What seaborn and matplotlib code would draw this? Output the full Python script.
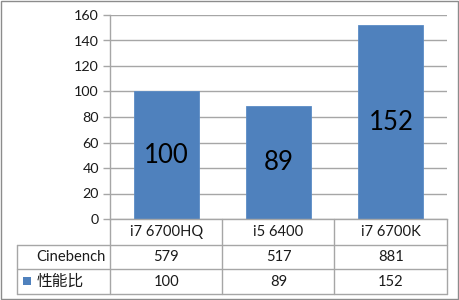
import matplotlib
matplotlib.use("Agg")
import matplotlib.pyplot as plt
import seaborn as sns
import pandas as pd
from matplotlib.lines import Line2D
from matplotlib.patches import Rectangle
from matplotlib.transforms import blended_transform_factory

categories = ["i7 6700HQ", "i5 6400", "i7 6700K"]
perf_ratio = [100, 89, 152]
cinebench = [579, 517, 881]
row_labels = ["Cinebench", "性能比"]
y_ticks = [0, 20, 40, 60, 80, 100, 120, 140, 160]

sns.set_theme(style="white")
plt.rcParams["font.family"] = ["Lato", "Noto Sans CJK SC", "DejaVu Sans"]

W, H = 459, 300
fig = plt.figure(figsize=(W / 100, H / 100), dpi=100)
fig.patch.set_facecolor("white")

def fx(px):
    return px / W

def fy(py):
    return 1 - py / H

left, right, top, bottom = 110, 447, 15, 219
ax = fig.add_axes([fx(left), fy(bottom), fx(right) - fx(left), fy(top) - fy(bottom)])

df = pd.DataFrame({"cpu": categories, "ratio": perf_ratio})
BLUE = "#4F81BD"
sns.barplot(data=df, x="cpu", y="ratio", color=BLUE, saturation=1, width=0.58,
            ax=ax, edgecolor="#5B8CC6", linewidth=0.6)
for c in ax.containers:
    ax.bar_label(c, label_type="center", fontsize=18.5, color="black")

GRID = "#A6A6A6"
TXT = "#1a1a1a"
ax.set_ylim(0, 160)
ax.set_xlim(-0.5, len(categories) - 0.5)
ax.set_yticks(y_ticks)
ax.set_yticklabels([str(v) for v in y_ticks], fontsize=10.3, color=TXT)
ax.yaxis.grid(True, color=GRID, linewidth=1)
ax.set_axisbelow(True)
ax.set_xticks([])
ax.set_xlabel("")
ax.set_ylabel("")
ax.tick_params(axis="y", length=5, width=1, color=GRID, pad=3, left=True)
for s in ["top", "right"]:
    ax.spines[s].set_visible(False)
ax.spines["left"].set_color(GRID)
ax.spines["left"].set_linewidth(1)
ax.spines["bottom"].set_color(GRID)
ax.spines["bottom"].set_linewidth(1)

# data table
tcol = blended_transform_factory(ax.transData, fig.transFigure)
LC = "#A6A6A6"

def hline(x0, x1, y):
    fig.add_artist(Line2D([fx(x0), fx(x1)], [fy(y), fy(y)], color=LC, lw=1))

def vline(x, y0, y1):
    fig.add_artist(Line2D([fx(x), fx(x)], [fy(y0), fy(y1)], color=LC, lw=1))

row_y = [219, 245, 269, 294]
tbl_left = 17
hline(tbl_left, right, 245)
hline(tbl_left, right, 269)
hline(tbl_left, right, 294)
vline(tbl_left, 245, 294)
for xb in [110, 222, 334, 447]:
    vline(xb, 219, 294)

cat_y = fy((row_y[0] + row_y[1]) / 2)
cb_y = fy((row_y[1] + row_y[2]) / 2)
pr_y = fy((row_y[2] + row_y[3]) / 2)
FS = 10.6
for i, cat in enumerate(categories):
    fig.text(i, cat_y, cat, transform=tcol, ha="center", va="center", fontsize=FS, color=TXT)
    fig.text(i, cb_y, str(cinebench[i]), transform=tcol, ha="center", va="center", fontsize=FS, color=TXT)
    fig.text(i, pr_y, str(perf_ratio[i]), transform=tcol, ha="center", va="center", fontsize=FS, color=TXT)

fig.text(fx(106), cb_y, row_labels[0], ha="right", va="center", fontsize=FS, color=TXT)
fig.add_artist(Rectangle((fx(23), fy(285)), fx(8), fy(277) - fy(285), transform=fig.transFigure,
                         facecolor=BLUE, edgecolor="none"))
fig.text(fx(37), pr_y, row_labels[1], ha="left", va="center", fontsize=11.3, color=TXT)

# outer frame
fig.add_artist(Rectangle((fx(0.5), fy(298.5)), fx(457), fy(1) - fy(298.5), transform=fig.transFigure,
                         facecolor="none", edgecolor="#8C8C8C", lw=1))

fig.savefig("out.png", dpi=100)
